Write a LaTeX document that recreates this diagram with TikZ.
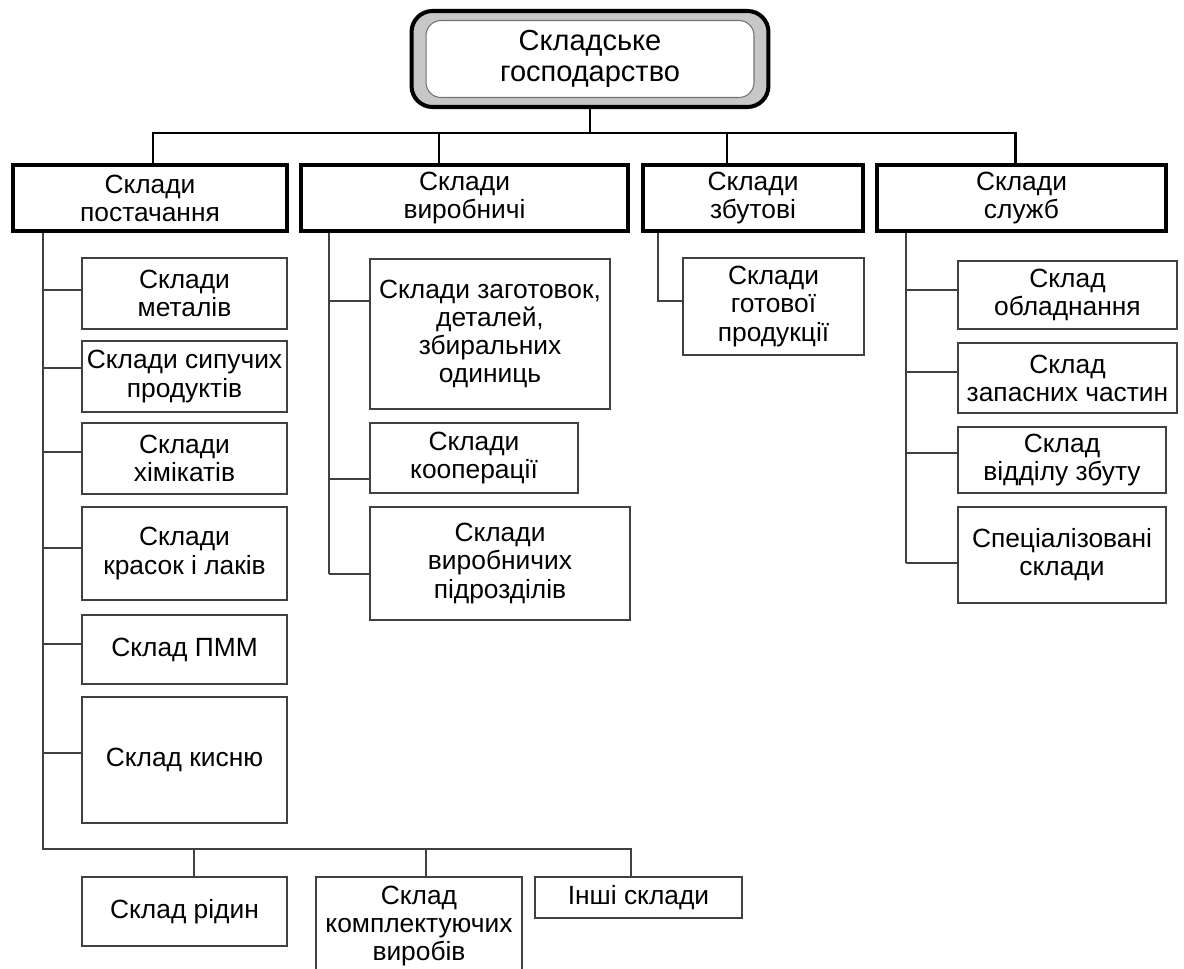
\documentclass[tikz,border=0pt]{standalone}
\usepackage{fontspec}
\setmainfont{Liberation Sans}
\begin{document}
\begin{tikzpicture}[x=0.02cm,y=-0.02cm,
    every node/.style={font=\fontsize{15}{16}\selectfont, align=center, inner sep=0pt},
    main/.style={draw=black, line width=2.2pt, minimum height=1.32cm},
    sub/.style={draw=black!75, line width=1.1pt},
    bus/.style={line width=1.7pt, line join=miter},
    link/.style={draw=black!75, line width=1.1pt}]
  \useasboundingbox (0,0) rectangle (1184,969);
  % головний блок
  \node[draw, line width=2.3pt, fill=black!22, rounded corners=0.42cm,
        minimum width=7.14cm, minimum height=1.92cm] (top) at (590,59) {};
  \node[draw=black!55, line width=0.6pt, fill=white, rounded corners=0.3cm,
        minimum width=6.56cm, minimum height=1.54cm,
        font=\fontsize{16.5}{18}\selectfont] (topin) at (590,59) {Складське\\господарство};
  % перший рівень
  \node[main, minimum width=5.48cm] (post) at (150,198) {Склади\\постачання};
  \node[main, minimum width=6.54cm] (vyrob) at (464.5,198) {Склади\\виробничі};
  \node[main, minimum width=4.40cm] (zbut) at (753,198) {Склади\\збутові};
  \node[main, minimum width=5.78cm] (sluzhb) at (1021.5,198) {Склади\\служб};
  \coordinate (bus) at (590,133);
  \foreach \n/\x in {post/153, vyrob/439, zbut/727, sluzhb/1015}
    \coordinate (b-\n) at (\x,133);
  \draw[bus] (bus |- top.south) -- (bus);
  \draw[bus] (b-post |- post.north) -- (b-post) -- (b-sluzhb) -- (b-sluzhb |- sluzhb.north);
  \draw[bus] (b-vyrob) -- (b-vyrob |- vyrob.north);
  \draw[bus] (b-zbut) -- (b-zbut |- zbut.north);
  % склади постачання
  \node[sub, minimum width=4.10cm, minimum height=1.42cm] (metal) at (184.5,293.5) {Склади\\металів};
  \node[sub, minimum width=4.10cm, minimum height=1.42cm] (sypuch) at (184.5,376.5) {Склади сипучих\\продуктів};
  \node[sub, minimum width=4.10cm, minimum height=1.42cm] (khim) at (184.5,458.5) {Склади\\хімікатів};
  \node[sub, minimum width=4.10cm, minimum height=1.86cm] (krasok) at (184.5,553.5) {Склади\\красок і лаків};
  \node[sub, minimum width=4.10cm, minimum height=1.38cm] (pmm) at (184.5,649.5) {Склад ПММ};
  \node[sub, minimum width=4.10cm, minimum height=2.52cm] (kysen) at (184.5,760) {Склад кисню};
  \node[sub, minimum width=4.10cm, minimum height=1.38cm] (ridyn) at (184.5,911.5) {Склад рідин};
  \node[sub, minimum width=4.12cm, minimum height=1.96cm] (kompl) at (419,926) {Склад\\комплектуючих\\виробів};
  \node[sub, minimum width=4.14cm, minimum height=0.82cm] (inshi) at (638.5,897.5) {Інші склади};
  \coordinate (pv) at (43,849);
  \coordinate (r1) at (194,849);
  \coordinate (r2) at (426,849);
  \coordinate (r3) at (631,849);
  \draw[link] (pv |- post.south) -- (pv) -- (r3) -- (r3 |- inshi.north);
  \draw[link] (r1) -- (r1 |- ridyn.north);
  \draw[link] (r2) -- (r2 |- kompl.north);
  \foreach \n/\s in {metal/0.07cm, sypuch/0.17cm, khim/0.13cm, krasok/0.11cm, pmm/0.11cm, kysen/0.14cm} {
    \coordinate (t) at ([yshift=\s]\n.west);
    \draw[link] (t) -- (t -| pv);
  }
  % склади виробничі
  \node[sub, minimum width=4.80cm, minimum height=3.00cm] (zag) at (490,334) {Склади заготовок,\\деталей,\\збиральних\\одиниць};
  \node[sub, minimum width=4.16cm, minimum height=1.40cm] (koop) at (474,458) {Склади\\кооперації};
  \node[sub, minimum width=5.20cm, minimum height=2.26cm] (pidr) at (500,563.5) {Склади\\виробничих\\підрозділів};
  \coordinate (vv) at (329,574);
  \draw[link] (vv |- vyrob.south) -- (vv);
  \foreach \n/\s in {zag/0.66cm, koop/-0.42cm, pidr/-0.21cm} {
    \coordinate (t) at ([yshift=\s]\n.west);
    \draw[link] (t) -- (t -| vv);
  }
  % склади збутові
  \node[sub, minimum width=3.62cm, minimum height=1.94cm] (gotov) at (773.5,306.5) {Склади\\готової\\продукції};
  \coordinate (zv) at (658,301);
  \draw[link] (zv |- zbut.south) -- (zv) -- (zv -| gotov.west);
  % склади служб
  \node[sub, minimum width=4.38cm, minimum height=1.36cm] (obl) at (1067.5,295) {Склад\\обладнання};
  \node[sub, minimum width=4.38cm, minimum height=1.40cm] (zap) at (1067.5,378) {Склад\\запасних частин};
  \node[sub, minimum width=4.16cm, minimum height=1.32cm] (vid) at (1062,460) {Склад\\відділу збуту};
  \node[sub, minimum width=4.16cm, minimum height=1.92cm] (spec) at (1062,555) {Спеціалізовані\\склади};
  \coordinate (sv) at (906,563);
  \draw[link] (sv |- sluzhb.south) -- (sv);
  \foreach \n/\s in {obl/0.10cm, zap/0.12cm, vid/0.14cm, spec/-0.16cm} {
    \coordinate (t) at ([yshift=\s]\n.west);
    \draw[link] (t) -- (t -| sv);
  }
\end{tikzpicture}
\end{document}
